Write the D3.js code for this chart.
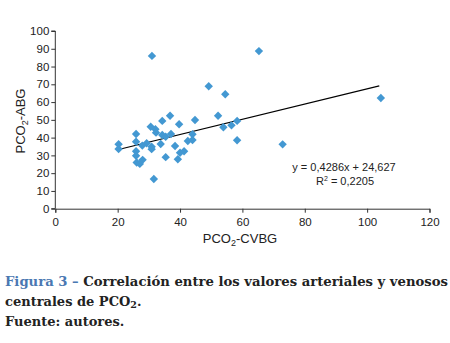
<!DOCTYPE html>
<html>
<head>
<meta charset="utf-8">
<script src="https://cdn.jsdelivr.net/npm/d3@7"></script>
<style>
  body { margin: 0; background: #fff; }
  svg { display: block; }
</style>
</head>
<body>
<svg id="chart" width="450" height="343"></svg>
<script>
// PCO2-CVBG (x) vs PCO2-ABG (y)
const cvbg = [20.3, 20.3, 25.9, 25.9, 25.9, 25.9, 26.1, 27.1, 28.0, 27.9, 29.3, 30.6, 30.9, 30.9, 31.0, 31.6,
    32.1, 32.3, 33.8, 34.3, 34.3, 35.4, 35.4, 36.8, 37.1, 38.4, 39.7, 39.3, 40.0, 41.3, 42.5, 44.0,
    44.0, 44.8, 49.2, 52.2, 53.9, 54.5, 56.5, 58.3, 58.3, 65.3, 72.9, 104.4];
const abg = [36.3, 33.6, 42.0, 37.7, 32.3, 29.8, 26.0, 25.2, 27.5, 35.5, 36.8, 46.1, 34.9, 33.5, 86.0, 16.7,
    44.7, 42.8, 36.4, 49.4, 41.5, 40.5, 29.0, 52.3, 42.0, 35.3, 47.5, 27.8, 31.5, 32.3, 38.1, 38.7,
    41.9, 49.9, 68.9, 52.3, 45.8, 64.4, 46.9, 49.4, 38.5, 88.7, 36.2, 62.3];
const xTicks = [0, 20, 40, 60, 80, 100, 120];
const yTicks = [0, 10, 20, 30, 40, 50, 60, 70, 80, 90, 100];
const slope = 0.4286, intercept = 24.627, r2 = '0,2205';

const points = cvbg.map((v, i) => ({ x: v, y: abg[i] }));

const svg = d3.select('#chart');
const font = '"Liberation Sans", Arial, sans-serif';

const x = d3.scaleLinear().domain([0, 120]).range([55.3, 429.5]);
const y = d3.scaleLinear().domain([0, 100]).range([208.7, 31]);

// Axes
const xAxis = svg.append('g').attr('transform', `translate(0,${y(0)})`)
    .call(d3.axisBottom(x).tickValues(xTicks).tickSize(4).tickPadding(5));
const yAxis = svg.append('g').attr('transform', `translate(${x(0)},0)`)
    .call(d3.axisLeft(y).tickValues(yTicks).tickSize(4).tickPadding(2));
[xAxis, yAxis].forEach(g => {
    g.selectAll('path, line').attr('stroke', '#333');
    g.selectAll('text').attr('font-family', font).attr('font-size', '11.5px').attr('fill', '#222');
});
yAxis.select('.domain').attr('d', `M-4,${y(0)}H0V${y(100)}H-4`);

// Trend line over the data range
const xr = d3.extent(cvbg);
svg.append('line')
    .attr('x1', x(xr[0])).attr('y1', y(slope * xr[0] + intercept))
    .attr('x2', x(xr[1] - 0.5)).attr('y2', y(slope * (xr[1] - 0.5) + intercept))
    .attr('stroke', '#000').attr('stroke-width', 1.2);

// Points (diamonds)
svg.append('g').selectAll('path')
    .data(points)
    .enter()
    .append('path')
    .attr('transform', d => `translate(${x(d.x)},${y(d.y)})`)
    .attr('d', 'M0,-4.2L4.2,0L0,4.2L-4.2,0Z')
    .attr('fill', '#4398d2');

// Equation
svg.append('text').attr('x', 344).attr('y', 171).attr('text-anchor', 'middle')
    .attr('font-family', font).attr('font-size', '11px').attr('fill', '#222')
    .text(`y = ${String(slope).replace('.', ',')}x + ${String(intercept).replace('.', ',')}`);
const r2Text = svg.append('text').attr('x', 345).attr('y', 185).attr('text-anchor', 'middle')
    .attr('font-family', font).attr('font-size', '11px').attr('fill', '#222');
r2Text.append('tspan').text('R');
r2Text.append('tspan').attr('font-size', '7px').attr('dy', -4).text('2');
r2Text.append('tspan').attr('dy', 4).text(` = ${r2}`);

// Axis titles
function subTitle(g, a, b) {
    g.append('tspan').text(a);
    g.append('tspan').attr('font-size', '9px').attr('dy', 3).text('2');
    g.append('tspan').attr('dy', -3).text(b);
}
const xt = svg.append('text').attr('x', 240).attr('y', 243).attr('text-anchor', 'middle')
    .attr('font-family', font).attr('font-size', '13px').attr('fill', '#222');
subTitle(xt, 'PCO', '-CVBG');
const yt = svg.append('text').attr('transform', 'translate(25,121) rotate(-90)').attr('text-anchor', 'middle')
    .attr('font-family', font).attr('font-size', '13px').attr('fill', '#222');
subTitle(yt, 'PCO', '-ABG');

// Caption
const serif = '"DejaVu Serif", serif';
const cap1 = svg.append('text').attr('x', 5).attr('y', 286)
    .attr('font-family', serif).attr('font-size', '13px').attr('font-weight', 'bold').attr('fill', '#222')
    .attr('textLength', 443).attr('lengthAdjust', 'spacingAndGlyphs');
cap1.append('tspan').attr('fill', '#4a78b2').text('Figura 3 – ');
cap1.append('tspan').text('Correlación entre los valores arteriales y venosos');
const cap2 = svg.append('text').attr('x', 5).attr('y', 306)
    .attr('font-family', serif).attr('font-size', '13px').attr('font-weight', 'bold').attr('fill', '#222');
cap2.append('tspan').text('centrales de PCO');
cap2.append('tspan').attr('font-size', '9.5px').attr('dy', 2).text('2');
cap2.append('tspan').attr('dy', -2).text('.');
svg.append('text').attr('x', 5).attr('y', 326)
    .attr('font-family', serif).attr('font-size', '13px').attr('font-weight', 'bold').attr('fill', '#222')
    .text('Fuente: autores.');
</script>
</body>
</html>
